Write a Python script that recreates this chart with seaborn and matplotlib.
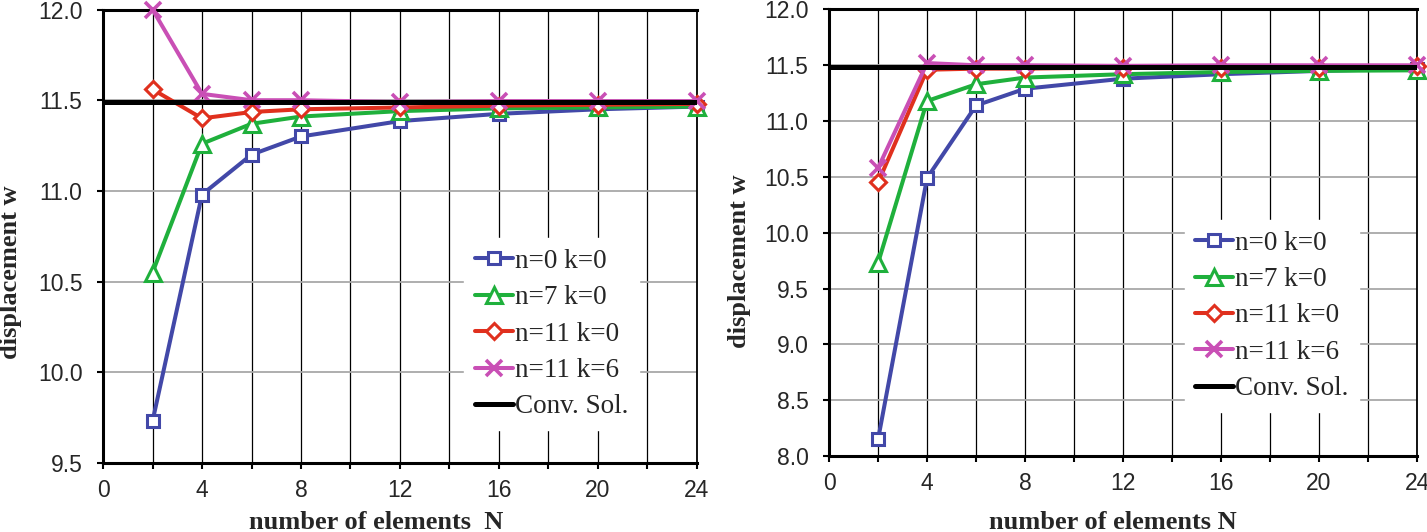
import numpy as np
import pandas as pd
import matplotlib
matplotlib.use('Agg')
import matplotlib.pyplot as plt
import seaborn as sns
from matplotlib.ticker import MultipleLocator

# number of elements
N = [2, 4, 6, 8, 12, 16, 20, 24]

# left panel values
left_n0k0 = [9.73, 10.98, 11.20, 11.30, 11.385, 11.425, 11.45, 11.465]
left_n7k0 = [10.55, 11.26, 11.37, 11.41, 11.44, 11.455, 11.46, 11.465]
left_n11k0 = [11.56, 11.40, 11.435, 11.45, 11.46, 11.47, 11.475, 11.48]
left_n11k6 = [12.0, 11.535, 11.50, 11.50, 11.49, 11.495, 11.495, 11.495]
left_conv = 11.49

# right panel values
right_n0k0 = [8.15, 10.49, 11.14, 11.29, 11.38, 11.42, 11.45, 11.47]
right_n7k0 = [9.73, 11.18, 11.33, 11.39, 11.42, 11.44, 11.45, 11.455]
right_n11k0 = [10.45, 11.46, 11.47, 11.47, 11.48, 11.48, 11.48, 11.49]
right_n11k6 = [10.58, 11.52, 11.50, 11.50, 11.495, 11.50, 11.50, 11.50]
right_conv = 11.487

labels = ['n=0 k=0', 'n=7 k=0', 'n=11 k=0', 'n=11 k=6']
colors = ['#4248a8', '#1fb03c', '#e0301e', '#c94fb5']
markers = ['s', '^', 'D', 'x']
msizes = [9, 11, 8, 12]

sns.set_theme(style='white')
plt.rcParams['font.family'] = ['Liberation Sans', 'DejaVu Sans']
serif = ['Liberation Serif', 'DejaVu Serif']

fig = plt.figure(figsize=(14.27, 5.32), dpi=100)
ax1 = fig.add_axes([0.0722, 0.1297, 0.4162, 0.8524])
ax2 = fig.add_axes([0.5810, 0.1429, 0.4120, 0.8393])


def draw_panel(ax, series, conv, ylim, xlab, xlab_pos, ylab_pos, leg_pos):
    ax.set_xlim(0, 24)
    ax.set_ylim(*ylim)
    ax.xaxis.set_major_locator(MultipleLocator(4))
    ax.xaxis.set_minor_locator(MultipleLocator(2))
    ax.yaxis.set_major_locator(MultipleLocator(0.5))
    ax.yaxis.set_major_formatter(matplotlib.ticker.FormatStrFormatter('%.1f'))
    ax.grid(True, axis='x', which='both', color='black', lw=0.9, zorder=0)
    ax.grid(True, axis='y', which='major', color='#a8a8a8', lw=1.3, zorder=0)
    ax.set_axisbelow(True)

    for vals, lab, c, m, ms in zip(series, labels, colors, markers, msizes):
        sns.lineplot(x=N, y=vals, ax=ax, color=c, lw=2.9, marker=m, ms=ms,
                     mfc='white', mec=c, mew=2.2 if m != 'x' else 2.6,
                     label=lab, clip_on=False, zorder=3)
    # converged solution drawn last, on top of the series
    ax.axhline(conv, color='black', lw=3.6, label='Conv. Sol.', zorder=4)

    for side in ['left', 'bottom', 'top']:
        ax.spines[side].set_linewidth(2.2)
        ax.spines[side].set_color('black')
    ax.spines['right'].set_linewidth(1.3)
    ax.spines['right'].set_color('black')

    ax.tick_params(axis='x', which='both', direction='out', length=4.3,
                   width=1.5, color='black', bottom=True, pad=7.5,
                   labelsize=16.5)
    ax.tick_params(axis='y', which='major', direction='out', length=4.3,
                   width=1.5, color='black', left=True, pad=10.5,
                   labelsize=16.5)

    ax.set_xlabel(xlab, fontsize=19, fontweight='bold', family=serif,
                  va='baseline')
    ax.xaxis.set_label_coords(*xlab_pos)
    ax.set_ylabel('displacement w', fontsize=19, fontweight='bold',
                  family=serif, va='center')
    ax.yaxis.set_label_coords(*ylab_pos)

    leg = ax.legend(loc='upper left', bbox_to_anchor=leg_pos,
                    prop={'family': serif, 'size': 19.5},
                    frameon=True, fancybox=False, framealpha=1,
                    edgecolor='white', facecolor='white',
                    handlelength=1.4, handletextpad=0.05,
                    labelspacing=0.42, borderpad=0.4, borderaxespad=0)
    leg.set_zorder(5)


draw_panel(ax1, [left_n0k0, left_n7k0, left_n11k0, left_n11k6], left_conv,
           (9.5, 12.0), 'number of elements  N', (0.46, -0.1455),
           (-0.155, 0.421), (0.6086, 0.496))
draw_panel(ax2, [right_n0k0, right_n7k0, right_n11k0, right_n11k6], right_conv,
           (8.0, 12.0), 'number of elements N', (0.483, -0.1635),
           (-0.153, 0.437), (0.6046, 0.529))

plt.savefig('out.png', dpi=100)
